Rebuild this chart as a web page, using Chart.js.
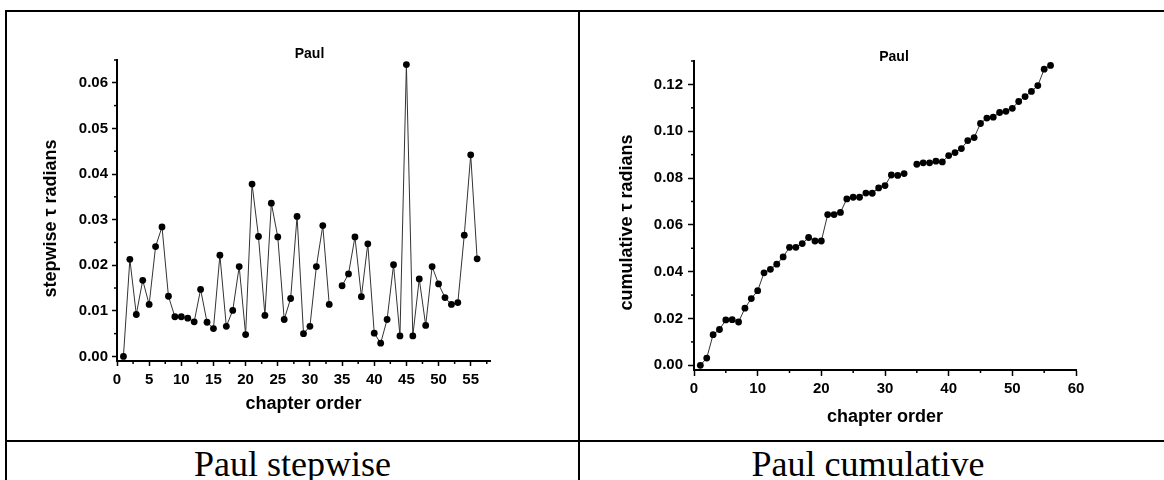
<!DOCTYPE html>
<html>
<head>
<meta charset="utf-8">
<script src="https://cdn.jsdelivr.net/npm/chart.js@4.4.1/dist/chart.umd.min.js"></script>
<style>
  html, body { margin: 0; padding: 0; background: #fff; }
  body { width: 1164px; height: 480px; position: relative; overflow: hidden; }
  .rule { position: absolute; background: #000; }
  .caption { position: absolute; top: 446px; height: 36px; line-height: 36px; text-align: center;
             font-family: "Liberation Serif", "Times New Roman", serif; font-size: 36px; color: #000; }
  canvas { position: absolute; }
</style>
</head>
<body>
<div class="rule" style="left:5px;top:10px;width:1159px;height:2px"></div>
<div class="rule" style="left:5px;top:10px;width:2px;height:470px"></div>
<div class="rule" style="left:578px;top:10px;width:2px;height:470px"></div>
<div class="rule" style="left:5px;top:440px;width:1159px;height:2px"></div>
<div class="caption" style="left:7px;width:571px">Paul stepwise</div>
<div class="caption" style="left:580px;width:576px">Paul cumulative</div>
<canvas id="chartStepwise" width="570" height="428" style="left:8px;top:12px"></canvas>
<canvas id="chartCumulative" width="584" height="428" style="left:580px;top:12px"></canvas>
<script>
// chapter numbers (chapter 34 has no value in either series)
const chapters = [1, 2, 3, 4, 5, 6, 7, 8, 9, 10, 11, 12, 13, 14, 15, 16, 17, 18, 19, 20,
                  21, 22, 23, 24, 25, 26, 27, 28, 29, 30, 31, 32, 33, 34, 35, 36, 37, 38, 39, 40,
                  41, 42, 43, 44, 45, 46, 47, 48, 49, 50, 51, 52, 53, 54, 55, 56];

const stepwise = [0.0000, 0.0213, 0.0092, 0.0167, 0.0114, 0.0241, 0.0284, 0.0132, 0.0087, 0.0087,
                  0.0084, 0.0076, 0.0147, 0.0075, 0.0061, 0.0222, 0.0066, 0.0101, 0.0197, 0.0048,
                  0.0378, 0.0263, 0.0090, 0.0336, 0.0262, 0.0081, 0.0127, 0.0307, 0.0050, 0.0066,
                  0.0197, 0.0287, 0.0114, null,   0.0155, 0.0181, 0.0262, 0.0131, 0.0247, 0.0051,
                  0.0029, 0.0081, 0.0201, 0.0045, 0.0640, 0.0045, 0.0170, 0.0068, 0.0197, 0.0159,
                  0.0129, 0.0114, 0.0118, 0.0266, 0.0442, 0.0214];

const cumulative = [0.0000, 0.0031, 0.0131, 0.0153, 0.0194, 0.0195, 0.0185, 0.0244, 0.0285, 0.0319,
                    0.0395, 0.0410, 0.0432, 0.0463, 0.0504, 0.0504, 0.0520, 0.0546, 0.0531, 0.0531,
                    0.0644, 0.0644, 0.0653, 0.0711, 0.0718, 0.0718, 0.0736, 0.0735, 0.0758, 0.0768,
                    0.0813, 0.0811, 0.0819, null,   0.0859, 0.0865, 0.0865, 0.0872, 0.0869, 0.0896,
                    0.0909, 0.0926, 0.0960, 0.0973, 0.1033, 0.1056, 0.1060, 0.1080, 0.1085, 0.1098,
                    0.1127, 0.1148, 0.1170, 0.1195, 0.1265, 0.1281];

const stepXTicks = [0, 5, 10, 15, 20, 25, 30, 35, 40, 45, 50, 55];
const stepYTicks = [0, 0.01, 0.02, 0.03, 0.04, 0.05, 0.06];
const cumXTicks = [0, 10, 20, 30, 40, 50, 60];
const cumYTicks = [0, 0.02, 0.04, 0.06, 0.08, 0.10, 0.12];

const FONT = '"Liberation Sans", Arial, sans-serif';
Chart.defaults.font.family = FONT;
Chart.defaults.color = '#000';

// short unlabeled ticks halfway between the labeled ones
const minorTicks = {
  id: 'minorTicks',
  afterDraw(chart, args, opts) {
    const ctx = chart.ctx;
    const area = chart.chartArea;
    ctx.save();
    ctx.strokeStyle = '#000';
    ctx.lineWidth = 1.5;
    ['x', 'y'].forEach(id => {
      const scale = chart.scales[id];
      const major = scale.ticks.map(t => t.value);
      const step = major[1] - major[0];
      for (let v = major[0] + step / 2; v <= scale.max + 1e-9; v += step) {
        const p = scale.getPixelForValue(v);
        ctx.beginPath();
        if (id === 'x') {
          ctx.moveTo(p, area.bottom);
          ctx.lineTo(p, area.bottom + opts.length);
        } else {
          ctx.moveTo(area.left, p);
          ctx.lineTo(area.left - opts.length, p);
        }
        ctx.stroke();
      }
    });
    ctx.restore();
  }
};

// "Paul" over the plot and the rotated y-axis caption, both nudged off-centre
const panelText = {
  id: 'panelText',
  afterDraw(chart, args, opts) {
    const { ctx, chartArea } = chart;
    ctx.save();
    ctx.fillStyle = '#000';
    ctx.textAlign = 'center';

    ctx.font = 'bold 14px ' + FONT;
    ctx.textBaseline = 'alphabetic';
    ctx.fillText(opts.title, (chartArea.left + chartArea.right) / 2 + opts.titleDx, chartArea.top + opts.titleDy);

    ctx.font = 'bold 18px ' + FONT;
    ctx.textBaseline = 'middle';
    ctx.translate(opts.yTitleX, (chartArea.top + chartArea.bottom) / 2 + opts.yTitleDy);
    ctx.rotate(-Math.PI / 2);
    ctx.fillText(opts.yTitle, 0, 0);
    ctx.restore();
  }
};

function makeChart(canvasId, values, c) {
  const points = values.map((v, i) => ({ x: chapters[i], y: v }));
  return new Chart(document.getElementById(canvasId), {
    type: 'line',
    data: {
      datasets: [{
        data: points,
        borderColor: '#333',
        borderWidth: 1,
        pointRadius: 3.4,
        pointBorderWidth: 0,
        pointBackgroundColor: '#000',
        spanGaps: false,
        tension: 0,
        clip: false
      }]
    },
    options: {
      responsive: false,
      animation: false,
      events: [],
      layout: { padding: { left: 0, top: c.top, right: c.right, bottom: 0 } },
      plugins: {
        legend: { display: false },
        tooltip: { enabled: false },
        panelText: {
          title: 'Paul', titleDx: c.titleDx, titleDy: c.titleDy,
          yTitle: c.yTitle, yTitleX: c.yTitleX, yTitleDy: c.yTitleDy
        },
        minorTicks: { length: 3 }
      },
      scales: {
        x: {
          type: 'linear',
          min: c.xMin,
          max: c.xMax,
          afterBuildTicks: s => { s.ticks = c.xTicks.map(v => ({ value: v })); },
          afterFit: s => { s.height = c.xHeight; },
          border: { display: true, color: '#000', width: 2 },
          grid: { drawOnChartArea: false, drawTicks: true, tickLength: c.tickLen, tickColor: '#000', tickWidth: 1.5 },
          ticks: { autoSkip: false, maxRotation: 0, padding: c.xPad, font: { size: 15, weight: 'bold' },
                   callback: v => String(v) },
          title: { display: true, text: 'chapter order', font: { size: 18, weight: 'bold' },
                   padding: { top: 0, bottom: c.xTitlePad } }
        },
        y: {
          type: 'linear',
          min: c.yMin,
          max: c.yMax,
          afterBuildTicks: s => { s.ticks = c.yTicks.map(v => ({ value: v })); },
          afterFit: s => { s.width = c.yWidth; },
          border: { display: true, color: '#000', width: 2 },
          grid: { drawOnChartArea: false, drawTicks: true, tickLength: c.tickLen, tickColor: '#000', tickWidth: 1.5 },
          ticks: { padding: c.yPad, font: { size: 15, weight: 'bold' }, callback: v => v.toFixed(2) },
          title: { display: false }
        }
      }
    },
    plugins: [minorTicks, panelText]
  });
}

makeChart('chartStepwise', stepwise, {
  top: 48, right: 88, xHeight: 79, yWidth: 109,
  xMin: 0, xMax: 58, yMin: -0.001, yMax: 0.065,
  xTicks: stepXTicks, yTicks: stepYTicks,
  tickLen: 5, xPad: 5, yPad: 4, xTitlePad: 25,
  yTitle: 'stepwise τ radians', yTitleX: 43, yTitleDy: 8,
  titleDx: 6, titleDy: -2
});

makeChart('chartCumulative', cumulative, {
  top: 49, right: 88, xHeight: 70, yWidth: 114,
  xMin: 0, xMax: 60, yMin: -0.002, yMax: 0.13,
  xTicks: cumXTicks, yTicks: cumYTicks,
  tickLen: 6, xPad: 4, yPad: 5, xTitlePad: 12,
  yTitle: 'cumulative τ radians', yTitleX: 47, yTitleDy: 7,
  titleDx: 9, titleDy: 0
});
</script>
</body>
</html>
